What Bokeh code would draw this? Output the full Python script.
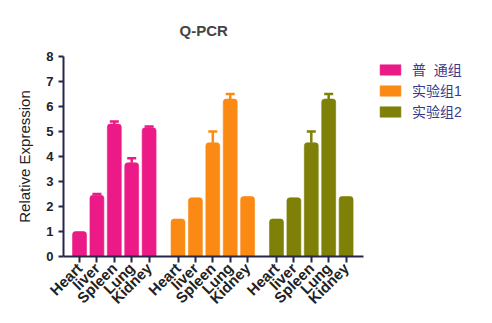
import math
from bokeh.plotting import figure
from bokeh.models import ColumnDataSource, Legend, LegendItem, FixedTicker, Range1d, Whisker, TeeHead
from bokeh.embed import file_html
from bokeh.resources import INLINE

tissues = ["Heart", "liver", "Spleen", "Lung", "Kidney"]
groups = ["普  通组", "实验组1", "实验组2"]
colors = ["#EC1A86", "#FB8A14", "#7E8008"]
values = [
    [1.0, 2.45, 5.3, 3.75, 5.15],
    [1.5, 2.35, 4.55, 6.3, 2.4],
    [1.5, 2.35, 4.55, 6.3, 2.4],
]
errors = [
    [0.0, 0.05, 0.1, 0.18, 0.05],
    [0.0, 0.0, 0.45, 0.2, 0.0],
    [0.0, 0.0, 0.45, 0.2, 0.0],
]
y_ticks = [0, 1, 2, 3, 4, 5, 6, 7, 8]

group_pitch = 5.66
FONT = "'Liberation Sans', Arial, 'Noto Sans CJK SC'"
AXIS_COLOR = "#26264A"

p = figure(frame_width=300, frame_height=200, output_backend="svg", toolbar_location=None,
           x_range=Range1d(-0.92, 16.32), y_range=Range1d(0, 8),
           min_border_left=63, min_border_top=56, min_border_bottom=67,
           min_border_right=10, title="Q-PCR")
p.outline_line_color = None
p.grid.grid_line_color = None
p.background_fill_color = "white"
p.border_fill_color = "white"

p.title.text_font = FONT
p.title.text_font_size = "15px"
p.title.text_font_style = "bold"
p.title.align = "left"
p.title.offset = 116
p.title.standoff = 36

ticks = []
overrides = {}
items = []
for g in range(3):
    xs = [g * group_pitch + i for i in range(len(tissues))]
    src = ColumnDataSource(dict(x=xs, top=values[g]))
    r = p.vbar(x="x", top="top", width=0.8, source=src, fill_color=colors[g],
               line_color=colors[g], line_alpha=0.6, border_radius=(3, 3, 0, 0))
    items.append(LegendItem(label=groups[g], renderers=[r]))
    ex = [x for x, e in zip(xs, errors[g]) if e > 0]
    eb = [v for v, e in zip(values[g], errors[g]) if e > 0]
    et = [v + e for v, e in zip(values[g], errors[g]) if e > 0]
    esrc = ColumnDataSource(dict(x=ex, lo=eb, hi=et))
    w = Whisker(base="x", lower="lo", upper="hi", source=esrc, dimension="height",
                line_color=colors[g], line_width=2.5,
                upper_head=TeeHead(size=9, line_color=colors[g], line_width=2.5),
                lower_head=None)
    p.add_layout(w)
    for x, t in zip(xs, tissues):
        ticks.append(x)
        overrides[x] = t

p.xaxis.ticker = FixedTicker(ticks=ticks)
p.xaxis.major_label_overrides = overrides
p.xaxis.major_label_orientation = math.pi / 4
p.xaxis.minor_tick_line_color = None
p.xaxis.major_tick_in = 0
p.xaxis.major_tick_out = 6
p.xaxis.major_label_text_font = FONT
p.xaxis.major_label_text_font_style = "bold"
p.xaxis.major_label_text_font_size = "15px"
p.xaxis.major_label_standoff = 3

p.yaxis.ticker = FixedTicker(ticks=y_ticks)
p.yaxis.minor_tick_line_color = None
p.yaxis.major_tick_in = 0
p.yaxis.major_tick_out = 5
p.yaxis.major_label_text_font = FONT
p.yaxis.major_label_text_font_style = "bold"
p.yaxis.major_label_text_font_size = "13px"
p.yaxis.axis_label = "Relative Expression"
p.yaxis.axis_label_text_font = FONT
p.yaxis.axis_label_text_font_style = "normal"
p.yaxis.axis_label_text_font_size = "15px"
p.yaxis.axis_label_standoff = 10

for ax in (p.xaxis, p.yaxis):
    ax.axis_line_color = AXIS_COLOR
    ax.axis_line_width = 2
    ax.major_tick_line_color = AXIS_COLOR
    ax.major_tick_line_width = 2
    ax.major_label_text_color = "#222222"
p.yaxis.axis_label_text_color = "#222222"

legend = Legend(items=items, location=(14, 135), glyph_width=26, glyph_height=13,
                label_standoff=9, spacing=1, label_height=16, border_line_color=None,
                margin=0, padding=7, background_fill_alpha=0, label_text_font=FONT,
                label_text_font_size="14px", label_text_color="#3A3A8A")
p.add_layout(legend, "right")

open("out.html", "w").write(file_html(p, INLINE))
